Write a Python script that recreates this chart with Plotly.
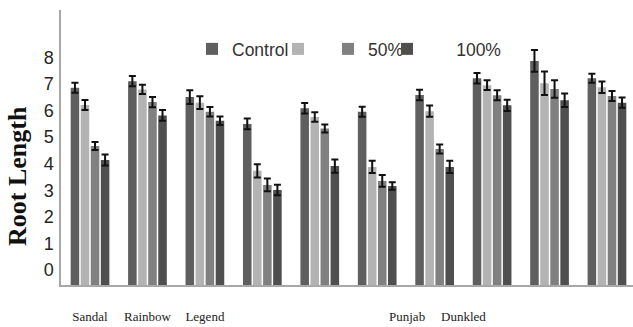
import plotly.graph_objects as go

# Root length per cultivar (10 cultivars, 4 treatments each)
group_index = list(range(10))
control = [6.86, 7.11, 6.51, 5.50, 6.09, 5.96, 6.59, 7.22, 7.87, 7.22]
light = [6.21, 6.80, 6.30, 3.73, 5.76, 3.88, 5.98, 6.96, 7.03, 6.88]
pct50 = [4.67, 6.32, 5.96, 3.20, 5.33, 3.35, 4.55, 6.58, 6.81, 6.55]
pct100 = [4.14, 5.82, 5.62, 3.01, 3.91, 3.16, 3.88, 6.20, 6.39, 6.30]

control_err = [0.19, 0.19, 0.26, 0.20, 0.20, 0.19, 0.20, 0.20, 0.41, 0.17]
light_err = [0.19, 0.17, 0.24, 0.25, 0.18, 0.23, 0.21, 0.18, 0.44, 0.22]
pct50_err = [0.15, 0.19, 0.18, 0.24, 0.15, 0.22, 0.17, 0.19, 0.33, 0.19]
pct100_err = [0.21, 0.20, 0.16, 0.20, 0.25, 0.14, 0.23, 0.21, 0.25, 0.19]

series_names = ["Control", "", "50%", "\u00a0" * 6 + "100%"]
series_colors = ["#5f5f5f", "#b3b3b3", "#808080", "#4f4f4f"]

tick_labels = ["Sandal", "Rainbow", "Legend", "Punjab", "Dunkled"]
tick_positions = [0, 1, 2, 5.52, 6.5]
y_ticks = list(range(9))

# axis floor sits a little below zero; bars grow up from it
Y_FLOOR = -0.569
Y_TOP = 9.79

fig = go.Figure()
values = [control, light, pct50, pct100]
errors = [control_err, light_err, pct50_err, pct100_err]
legend_widths = [41, 5, 14, 80]
for name, color, vals, errs, lw in zip(series_names, series_colors, values, errors, legend_widths):
    fig.add_trace(go.Bar(
        x=group_index,
        y=[v - Y_FLOOR for v in vals],
        base=Y_FLOOR,
        name=name,
        marker=dict(color=color, line=dict(width=0)),
        error_y=dict(type="data", array=errs, color="#111111", thickness=2, width=3.5),
        legendwidth=lw,
    ))

fig.update_layout(
    width=633,
    height=327,
    margin=dict(l=61, r=0, t=10, b=42),
    paper_bgcolor="white",
    plot_bgcolor="white",
    barmode="group",
    bargap=0.30,
    bargroupgap=0.15,
    showlegend=True,
    legend=dict(
        orientation="h",
        x=(192 - 61) / 572,
        xanchor="left",
        y=(285 - 49) / 275,
        yanchor="middle",
        font=dict(family="Liberation Sans", size=17.5, color="#333333"),
        bgcolor="rgba(0,0,0,0)",
        itemclick=False,
    ),
    xaxis=dict(
        range=[-0.505, 9.453],
        tickvals=tick_positions,
        ticktext=tick_labels,
        tickfont=dict(family="Liberation Serif", size=13, color="#222222"),
        showline=True,
        linecolor="#a8a8a8",
        linewidth=2,
        showgrid=False,
        zeroline=False,
        ticks="",
        ticklabelstandoff=18,
    ),
    yaxis=dict(
        range=[Y_FLOOR, Y_TOP],
        tickvals=y_ticks,
        tickfont=dict(family="Liberation Sans", size=18, color="#262626"),
        showline=True,
        linecolor="#a8a8a8",
        linewidth=1.5,
        showgrid=False,
        zeroline=False,
        ticks="",
        ticklabelstandoff=2,
    ),
    annotations=[dict(
        text="<b>Root Length</b>",
        textangle=-90,
        xref="paper", yref="paper",
        x=(17 - 61) / 572, y=(285 - 176) / 275,
        xanchor="center", yanchor="middle",
        showarrow=False,
        font=dict(family="Liberation Serif", size=26, color="#111111"),
    )],
)

fig.write_html("out.html")
